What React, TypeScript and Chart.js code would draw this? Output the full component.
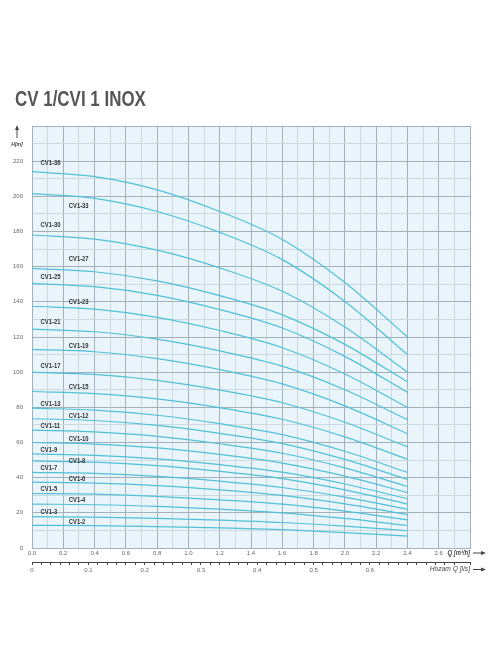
import React, { useEffect, useRef } from 'react';
import { Chart, registerables } from 'chart.js';

Chart.register(...registerables);

// flow rate Q [m3/h] where the head curves were read
const flowRates = [0, 0.4, 0.8, 1.2, 1.6, 2.0, 2.4];

// head H [m] per pump model
const cv1_2 = [12.9, 12.7, 12.2, 11.4, 10.4, 8.8, 6.8];
const cv1_3 = [17.8, 17.6, 16.9, 15.9, 14.5, 12.4, 9.8];
const cv1_4 = [25, 24.6, 23.7, 22.1, 20, 16.8, 12.8];
const cv1_5 = [31, 30.6, 29.4, 27.4, 24.9, 21, 16];
const cv1_6 = [37.5, 36.9, 35.5, 33.1, 29.9, 25.1, 19];
const cv1_7 = [43, 42.4, 40.7, 38, 34.4, 28.9, 22];
const cv1_8 = [49.5, 48.8, 46.8, 43.6, 39.5, 33.1, 25];
const cv1_9 = [53.5, 52.7, 50.7, 47.4, 43.1, 36.4, 28];
const cv1_10 = [60, 59.1, 56.9, 53.2, 48.3, 40.9, 31.5];
const cv1_11 = [67, 66, 63.5, 59.3, 53.9, 45.6, 35];
const cv1_12 = [73.5, 72.5, 69.7, 65.2, 59.4, 50.4, 39];
const cv1_13 = [79.5, 78.4, 75.5, 70.7, 64.5, 55, 43];
const cv1_15 = [89, 87.8, 84.8, 79.8, 73.2, 63.2, 50.5];
const cv1_17 = [100, 98.7, 95.3, 89.8, 82.6, 71.5, 57.5];
const cv1_19 = [113, 111.6, 107.7, 101.5, 93.3, 80.8, 65];
const cv1_21 = [124.5, 123, 118.8, 112.1, 103.4, 90, 73];
const cv1_23 = [137.5, 135.8, 131.2, 123.7, 113.9, 99, 80];
const cv1_25 = [150.5, 148.6, 143.7, 135.6, 125.1, 109, 88.5];
const cv1_27 = [159, 157.1, 151.9, 143.5, 132.6, 115.8, 94.5];
const cv1_30 = [178, 175.7, 169.4, 159.3, 146, 125.7, 100];
const cv1_33 = [201.5, 198.8, 191.4, 179.5, 164, 140.2, 110];
const cv1_36 = [214, 211.2, 203.7, 191.4, 175.5, 151, 120];

const pumpModels = [
  'CV1-2', 'CV1-3', 'CV1-4', 'CV1-5', 'CV1-6', 'CV1-7', 'CV1-8', 'CV1-9', 'CV1-10', 'CV1-11', 'CV1-12',
  'CV1-13', 'CV1-15', 'CV1-17', 'CV1-19', 'CV1-21', 'CV1-23', 'CV1-25', 'CV1-27', 'CV1-30', 'CV1-33', 'CV1-36',
];
const pumpHeads = [
  cv1_2, cv1_3, cv1_4, cv1_5, cv1_6, cv1_7, cv1_8, cv1_9, cv1_10, cv1_11, cv1_12,
  cv1_13, cv1_15, cv1_17, cv1_19, cv1_21, cv1_23, cv1_25, cv1_27, cv1_30, cv1_33, cv1_36,
];

// where each model name sits, in chart units (Q, H)
const labelFlow = [
  0.235, 0.055, 0.235, 0.055, 0.235, 0.055, 0.235, 0.055, 0.235, 0.055, 0.235,
  0.055, 0.235, 0.055, 0.235, 0.055, 0.235, 0.055, 0.235, 0.055, 0.235, 0.055,
];
const labelHead = [
  15, 20.5, 27.1, 33.5, 39.2, 45.3, 49.6, 55.9, 62.1, 69.4, 74.9,
  81.7, 91.7, 103.6, 114.8, 128.3, 140, 153.9, 164.3, 183.8, 194.3, 218.9,
];

const MAJOR = '#a3b1bd';
const MINOR = '#cdd9e1';
const CURVE = '#4fc0d7';

// condensed text: squeeze a normal face horizontally
function narrowText(ctx: CanvasRenderingContext2D, text: string, x: number, y: number, sx: number) {
  ctx.save();
  ctx.translate(x, y);
  ctx.scale(sx, 1);
  ctx.fillText(text, 0, 0);
  ctx.restore();
}

const annotations = {
  id: 'annotations',
  beforeDraw(chart: Chart) {
    const { ctx, chartArea } = chart;
    ctx.save();
    ctx.fillStyle = '#e9f5fb';
    ctx.fillRect(chartArea.left, chartArea.top, chartArea.right - chartArea.left, chartArea.bottom - chartArea.top);
    ctx.restore();
  },
  afterDraw(chart: Chart) {
    const { ctx, chartArea, scales } = chart;
    const xs = scales.x;
    const ys = scales.y;
    ctx.save();

    // title
    ctx.fillStyle = '#555555';
    ctx.font = 'bold 22px "Liberation Sans"';
    ctx.textAlign = 'left';
    ctx.textBaseline = 'alphabetic';
    narrowText(ctx, 'CV 1/CVI 1 INOX', 15, 106, 0.77);

    // model names
    ctx.fillStyle = '#333333';
    ctx.font = 'bold 7.5px "Liberation Sans"';
    ctx.textBaseline = 'middle';
    pumpModels.forEach((name, i) => {
      narrowText(ctx, name, xs.getPixelForValue(labelFlow[i]), ys.getPixelForValue(labelHead[i]), 0.78);
    });

    // axis names and arrows
    ctx.fillStyle = '#444444';
    ctx.strokeStyle = '#444444';
    ctx.lineWidth = 1;
    ctx.font = 'italic bold 6px "Liberation Sans"';
    ctx.textAlign = 'center';
    narrowText(ctx, 'H[m]', 17, chartArea.top + 18, 0.85);
    ctx.beginPath();
    ctx.moveTo(17, chartArea.top + 12);
    ctx.lineTo(17, chartArea.top + 3);
    ctx.stroke();
    ctx.beginPath();
    ctx.moveTo(17, chartArea.top - 1);
    ctx.lineTo(15, chartArea.top + 4);
    ctx.lineTo(19, chartArea.top + 4);
    ctx.fill();

    const arrowRight = (y: number) => {
      const x0 = chartArea.right + 3;
      ctx.beginPath();
      ctx.moveTo(x0, y);
      ctx.lineTo(x0 + 9, y);
      ctx.stroke();
      ctx.beginPath();
      ctx.moveTo(x0 + 13, y);
      ctx.lineTo(x0 + 8, y - 2);
      ctx.lineTo(x0 + 8, y + 2);
      ctx.fill();
    };

    ctx.textAlign = 'right';
    ctx.font = 'italic bold 6.5px "Liberation Sans"';
    narrowText(ctx, 'Q [m³/h]', chartArea.right, chartArea.bottom + 5, 0.9);
    arrowRight(chartArea.bottom + 5);

    ctx.font = 'italic 7px "Liberation Sans"';
    narrowText(ctx, 'Hozam Q [l/s]', chartArea.right, chartArea.bottom + 21.5, 0.95);
    arrowRight(chartArea.bottom + 21.5);

    ctx.restore();
  },
};

const App: React.FC = () => {
  const canvasRef = useRef<HTMLCanvasElement>(null);

  useEffect(() => {
    const ctx = canvasRef.current?.getContext('2d');
    if (!ctx) return;

    const tickFont = { family: '"Liberation Sans"', size: 6 };

    const chart = new Chart(ctx, {
      type: 'line',
      data: {
        datasets: pumpModels.map((name, i) => ({
          label: name,
          data: flowRates.map((q, j) => ({ x: q, y: pumpHeads[i][j] })),
          borderColor: CURVE,
          borderWidth: 1.2,
          pointRadius: 0,
          fill: false,
          cubicInterpolationMode: 'monotone' as const,
        })),
      },
      options: {
        animation: false,
        responsive: true,
        maintainAspectRatio: false,
        layout: { padding: { top: 126, left: 0, right: 26, bottom: 82 } },
        plugins: { legend: { display: false }, tooltip: { enabled: false } },
        scales: {
          x: {
            type: 'linear',
            position: 'bottom',
            min: 0,
            max: 2.8,
            afterFit: (s: any) => { s.height = 14; },
            ticks: {
              stepSize: 0.1,
              autoSkip: false,
              maxRotation: 0,
              padding: 2,
              color: '#666666',
              font: tickFont,
              callback: (v: any) => {
                const n = Math.round(Number(v) * 10);
                return n % 2 === 0 && n < 28 ? (n / 10).toFixed(1) : '';
              },
            },
            grid: {
              drawTicks: false,
              color: (c: any) => (Math.round(c.tick.value * 10) % 2 === 0 ? MAJOR : MINOR),
              lineWidth: 1,
            },
            border: { display: true, color: MAJOR },
          },
          x2: {
            type: 'linear',
            position: 'bottom',
            min: 0,
            max: 2.8 / 3.6,
            afterFit: (s: any) => { s.height = 20; },
            ticks: {
              stepSize: 1 / 60,
              autoSkip: false,
              maxRotation: 0,
              padding: 2,
              color: '#666666',
              font: tickFont,
              callback: (v: any) => {
                const t = Number(v) * 10;
                if (Math.abs(t - Math.round(t)) > 1e-6 || Math.round(t) > 6) return '';
                return Math.round(t) === 0 ? '0' : (Math.round(t) / 10).toFixed(1);
              },
            },
            grid: { drawOnChartArea: false, drawTicks: true, tickLength: 3, color: '#444444' },
            border: { display: true, color: '#444444' },
          },
          y: {
            type: 'linear',
            min: 0,
            max: 240,
            afterFit: (s: any) => { s.width = 32; },
            ticks: {
              stepSize: 10,
              autoSkip: false,
              padding: 9,
              color: '#666666',
              font: tickFont,
              callback: (v: any) => (Number(v) % 20 === 0 && Number(v) < 240 ? String(v) : ''),
            },
            grid: {
              drawTicks: false,
              color: (c: any) => (c.tick.value % 20 === 0 ? MAJOR : MINOR),
              lineWidth: 1,
            },
            border: { display: true, color: MAJOR },
          },
        },
      },
      plugins: [annotations],
    });

    return () => {
      chart.destroy();
    };
  }, []);

  return (
    <div style={{ position: 'fixed', left: 0, top: 0, width: 496, height: 664, background: '#ffffff' }}>
      <canvas ref={canvasRef}></canvas>
    </div>
  );
};

export default App;
